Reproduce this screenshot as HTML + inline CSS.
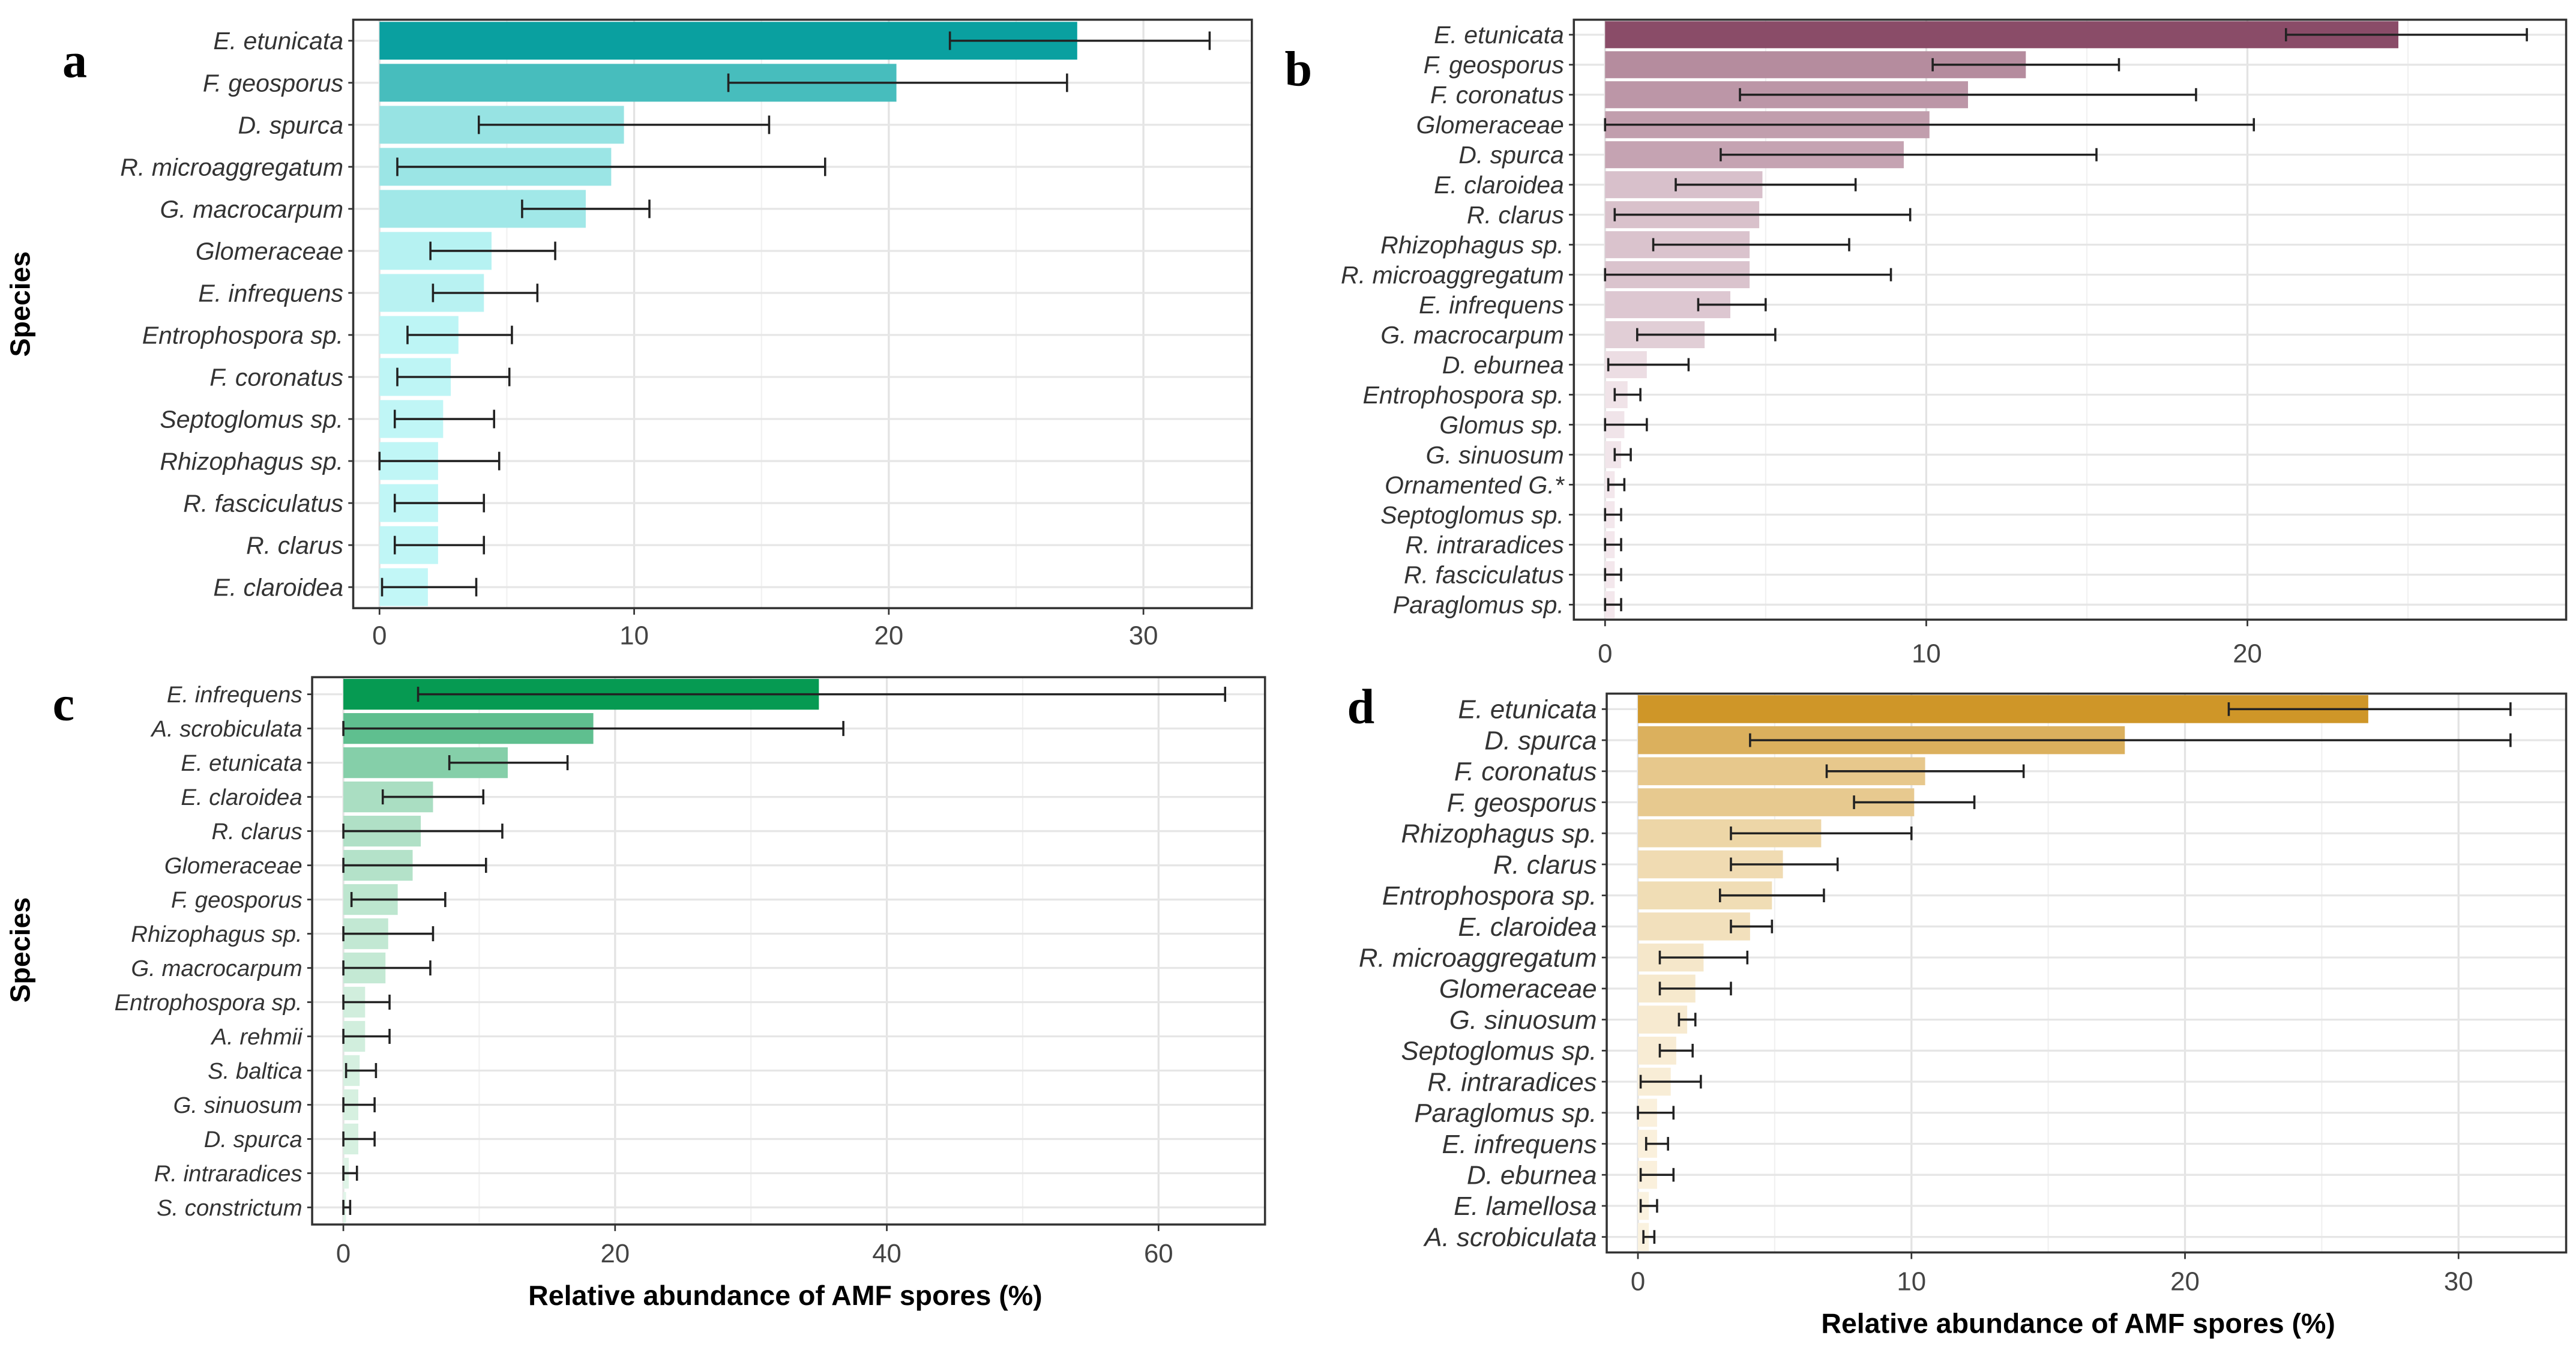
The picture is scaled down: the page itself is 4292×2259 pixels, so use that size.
<!DOCTYPE html>
<html><head><meta charset="utf-8">
<style>
html,body{margin:0;padding:0;background:#fff;}
svg{display:block;}
text{font-family:"Liberation Sans",sans-serif;}
text.letter{font-family:"Liberation Serif",serif;}
</style></head>
<body>
<svg id="chart" width="4292" height="2259" viewBox="0 0 1568 825" preserveAspectRatio="none" xmlns="http://www.w3.org/2000/svg">
<text x="18" y="185" transform="rotate(-90 18 185)" text-anchor="middle" font-weight="bold" font-size="17">Species</text>
<text x="18" y="578" transform="rotate(-90 18 578)" text-anchor="middle" font-weight="bold" font-size="17">Species</text>
<text x="478" y="794" text-anchor="middle" font-weight="bold" font-size="17">Relative abundance of AMF spores (%)</text>
<text x="1265" y="811" text-anchor="middle" font-weight="bold" font-size="17">Relative abundance of AMF spores (%)</text>
</svg>
<script>
// Panel a
const catsA = ["E. etunicata","F. geosporus","D. spurca","R. microaggregatum","G. macrocarpum","Glomeraceae","E. infrequens","Entrophospora sp.","F. coronatus","Septoglomus sp.","Rhizophagus sp.","R. fasciculatus","R. clarus","E. claroidea"];
const valsA = [27.4,20.3,9.6,9.1,8.1,4.4,4.1,3.1,2.8,2.5,2.3,2.3,2.3,1.9];
const loA = [22.4,13.7,3.9,0.7,5.6,2.0,2.1,1.1,0.7,0.6,0,0.6,0.6,0.1];
const hiA = [32.6,27.0,15.3,17.5,10.6,6.9,6.2,5.2,5.1,4.5,4.7,4.1,4.1,3.8];
const ticksA = [0,10,20,30];
// Panel b
const catsB = ["E. etunicata","F. geosporus","F. coronatus","Glomeraceae","D. spurca","E. claroidea","R. clarus","Rhizophagus sp.","R. microaggregatum","E. infrequens","G. macrocarpum","D. eburnea","Entrophospora sp.","Glomus sp.","G. sinuosum","Ornamented G.*","Septoglomus sp.","R. intraradices","R. fasciculatus","Paraglomus sp."];
const valsB = [24.7,13.1,11.3,10.1,9.3,4.9,4.8,4.5,4.5,3.9,3.1,1.3,0.7,0.6,0.5,0.3,0.3,0.3,0.3,0.3];
const loB = [21.2,10.2,4.2,0,3.6,2.2,0.3,1.5,0,2.9,1.0,0.1,0.3,0,0.3,0.1,0,0,0,0];
const hiB = [28.7,16.0,18.4,20.2,15.3,7.8,9.5,7.6,8.9,5.0,5.3,2.6,1.1,1.3,0.8,0.6,0.5,0.5,0.5,0.5];
const ticksB = [0,10,20];
// Panel c
const catsC = ["E. infrequens","A. scrobiculata","E. etunicata","E. claroidea","R. clarus","Glomeraceae","F. geosporus","Rhizophagus sp.","G. macrocarpum","Entrophospora sp.","A. rehmii","S. baltica","G. sinuosum","D. spurca","R. intraradices","S. constrictum"];
const valsC = [35.0,18.4,12.1,6.6,5.7,5.1,4.0,3.3,3.1,1.6,1.6,1.2,1.1,1.1,0.4,0.2];
const loC = [5.5,0,7.8,2.9,0,0,0.6,0,0,0,0,0.2,0,0,0,0];
const hiC = [64.9,36.8,16.5,10.3,11.7,10.5,7.5,6.6,6.4,3.4,3.4,2.4,2.3,2.3,1.0,0.5];
const ticksC = [0,20,40,60];
// Panel d
const catsD = ["E. etunicata","D. spurca","F. coronatus","F. geosporus","Rhizophagus sp.","R. clarus","Entrophospora sp.","E. claroidea","R. microaggregatum","Glomeraceae","G. sinuosum","Septoglomus sp.","R. intraradices","Paraglomus sp.","E. infrequens","D. eburnea","E. lamellosa","A. scrobiculata"];
const valsD = [26.7,17.8,10.5,10.1,6.7,5.3,4.9,4.1,2.4,2.1,1.8,1.4,1.2,0.7,0.7,0.7,0.4,0.4];
const loD = [21.6,4.1,6.9,7.9,3.4,3.4,3.0,3.4,0.8,0.8,1.5,0.8,0.1,0,0.3,0.1,0.1,0.2];
const hiD = [31.9,31.9,14.1,12.3,10.0,7.3,6.8,4.9,4.0,3.4,2.1,2.0,2.3,1.3,1.1,1.3,0.7,0.6];
const ticksD = [0,10,20,30];

const NS="http://www.w3.org/2000/svg";
const svg=document.getElementById('chart');
function mk(tag,attrs,parent){const e=document.createElementNS(NS,tag);for(const k in attrs)e.setAttribute(k,attrs[k]);(parent||svg).appendChild(e);return e;}
function mix(c1,c2,t){const a=[1,3,5].map(i=>parseInt(c1.substr(i,2),16)),b=[1,3,5].map(i=>parseInt(c2.substr(i,2),16));return 'rgb('+a.map((v,i)=>Math.round(v+(b[i]-v)*t)).join(',')+')';}

function panel(id,cfg,cats,vals,lo,hi,ticks){
  const g=mk('g',{});
  
  
  const {x0,x1,y0,y1,zero,ppu,c0,c1,max,fs,tickY,lx,ly,gam}=cfg;
  const xs=v=>zero+v*ppu;
  const n=cats.length, step=(y1-y0)/n;
  const ys=i=>y0+step*(i+0.5);
  const minorStep=(ticks[1]-ticks[0])/2;
  for(let v=0; xs(v)<x1; v+=minorStep){
    const major=Math.abs(v/(ticks[1]-ticks[0])-Math.round(v/(ticks[1]-ticks[0])))<1e-6;
    const l=mk('line',{x1:xs(v),x2:xs(v),y1:y0,y2:y1,stroke:major?'#e3e3e3':'#f1f1f1','stroke-width':major?1.2:0.8},g);
    
    
  }
  cats.forEach((c,i)=>{
    const l=mk('line',{x1:x0,x2:x1,y1:ys(i),y2:ys(i),stroke:'#e6e6e6','stroke-width':1.2},g);
    
    
  });
  cats.forEach((c,i)=>{
    const bh=step*0.9;
    const r=mk('rect',{x:xs(0),y:ys(i)-bh/2,width:Math.max(0,xs(vals[i])-xs(0)),height:bh,fill:mix(c0,c1,Math.pow(vals[i]/max,gam))},g);
    
    
    const e=mk('g',{stroke:'#222','stroke-width':1.3},g);
    
    
    const cap=step*0.22;
    mk('line',{x1:xs(lo[i]),x2:xs(hi[i]),y1:ys(i),y2:ys(i)},e);
    mk('line',{x1:xs(lo[i]),x2:xs(lo[i]),y1:ys(i)-cap,y2:ys(i)+cap},e);
    mk('line',{x1:xs(hi[i]),x2:xs(hi[i]),y1:ys(i)-cap,y2:ys(i)+cap},e);
    const t=mk('text',{x:x0-6,y:ys(i)+fs*0.35,'text-anchor':'end','font-size':fs,'font-style':'italic',fill:'#333'},g);
    t.textContent=c;
    
    
    mk('line',{x1:x0-3,x2:x0,y1:ys(i),y2:ys(i),stroke:'#333','stroke-width':1},g);
  });
  const b=mk('rect',{x:x0,y:y0,width:x1-x0,height:y1-y0,fill:'none',stroke:'#333','stroke-width':1.3},g);
  
  
  ticks.forEach(v=>{
    mk('line',{x1:xs(v),x2:xs(v),y1:y1,y2:y1+4,stroke:'#333','stroke-width':1},g);
    const t=mk('text',{x:xs(v),y:tickY,'text-anchor':'middle','font-size':16,fill:'#444'},g);
    t.textContent=v;
    
    
  });
  const L=mk('text',{x:lx,y:ly,'font-size':30,'font-weight':'bold','class':'letter'},g);
  L.textContent=id;
  
  
}
panel('a',{x0:215,x1:762,y0:12,y1:370,zero:231,ppu:15.5,c0:'#c8fafa',c1:'#0aa0a0',max:27.4,fs:15,tickY:392,lx:38,ly:47,gam:1.3},catsA,valsA,loA,hiA,ticksA);
panel('b',{x0:958,x1:1562,y0:12,y1:377,zero:977,ppu:19.55,c0:'#f6ecf0',c1:'#8a4c68',max:24.7,fs:15,tickY:403,lx:782,ly:52,gam:0.8},catsB,valsB,loB,hiB,ticksB);
panel('c',{x0:190,x1:770,y0:412,y1:745,zero:209,ppu:8.27,c0:'#e4f6ea',c1:'#069a52',max:35,fs:14,tickY:768,lx:32,ly:438,gam:0.8},catsC,valsC,loC,hiC,ticksC);
panel('d',{x0:978,x1:1562,y0:422,y1:762,zero:997,ppu:16.65,c0:'#fcf5e6',c1:'#cf9628',max:26.7,fs:16,tickY:785,lx:820,ly:440,gam:0.8},catsD,valsD,loD,hiD,ticksD);
</script>
</body></html>
